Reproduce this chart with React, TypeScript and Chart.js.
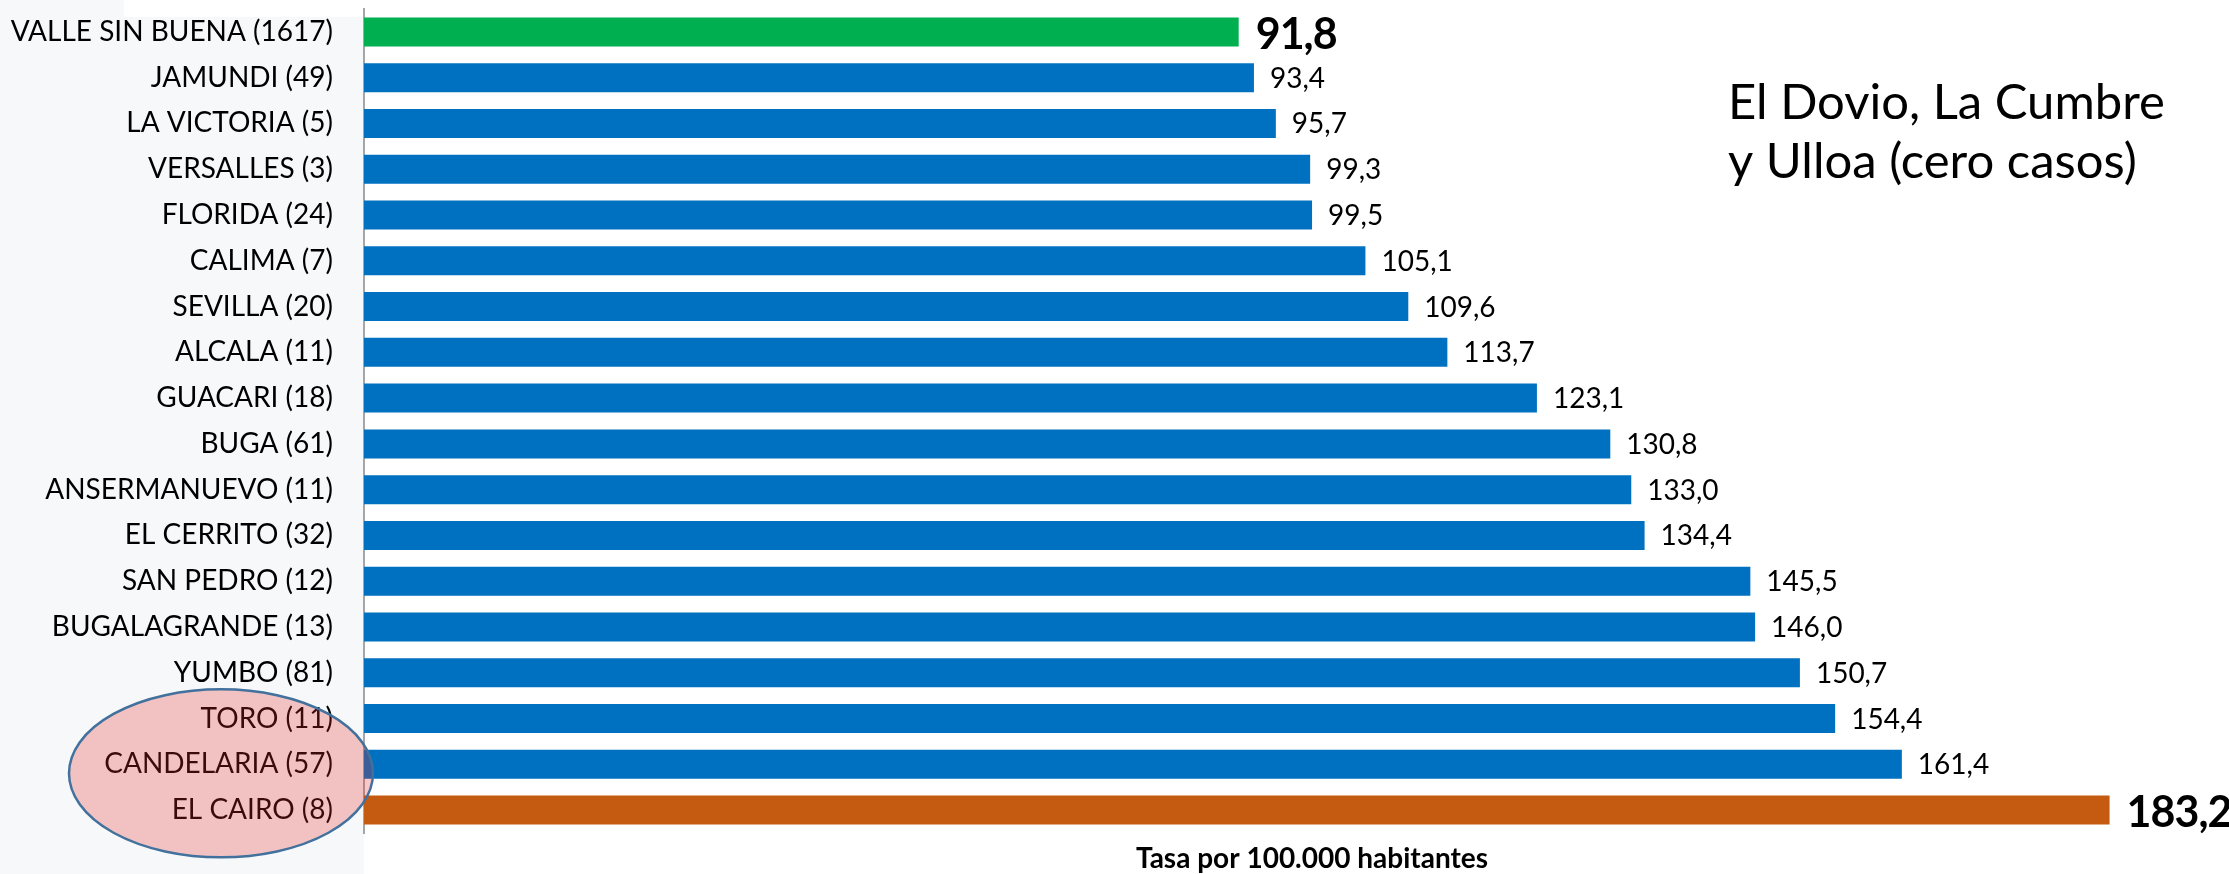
import React, { useEffect, useRef } from "react";
import { Chart, registerables } from "chart.js";

Chart.register(...registerables);

const categories = [
  "VALLE SIN BUENA (1617)",
  "JAMUNDI (49)",
  "LA VICTORIA (5)",
  "VERSALLES (3)",
  "FLORIDA (24)",
  "CALIMA (7)",
  "SEVILLA (20)",
  "ALCALA (11)",
  "GUACARI (18)",
  "BUGA (61)",
  "ANSERMANUEVO (11)",
  "EL CERRITO (32)",
  "SAN PEDRO (12)",
  "BUGALAGRANDE (13)",
  "YUMBO (81)",
  "TORO (11)",
  "CANDELARIA (57)",
  "EL CAIRO (8)",
];

const rates = [
  91.8, 93.4, 95.7, 99.3, 99.5, 105.1, 109.6, 113.7, 123.1, 130.8, 133.0, 134.4,
  145.5, 146.0, 150.7, 154.4, 161.4, 183.2,
];

const highlighted = [0, 17];

const barColors = categories.map((_, i) =>
  i === 0 ? "#00b050" : i === categories.length - 1 ? "#c55a11" : "#0070c0"
);

const noteLines = ["El Dovio, La Cumbre", "y Ulloa (cero casos)"];
const axisTitle = "Tasa por 100.000 habitantes";
const circledLabels = ["TORO (11)", "CANDELARIA (57)", "EL CAIRO (8)"];

const FONT = "Lato, 'Noto Sans', sans-serif";

export default function App() {
  const ref = useRef<HTMLCanvasElement | null>(null);

  useEffect(() => {
    let chart: Chart | null = null;
    let cancelled = false;

    const build = () => {
      if (cancelled || !ref.current) return;
      const bgPlugin = {
        id: "bg",
        beforeDraw(c: any) {
          const ctx = c.ctx;
          ctx.save();
          ctx.fillStyle = "#ffffff";
          ctx.fillRect(0, 0, c.width, c.height);
          const left = c.chartArea.left;
          ctx.fillStyle = "#f6f8fa";
          ctx.fillRect(0, 0, left, c.height);
          ctx.fillStyle = "#ffffff";
          ctx.fillRect(124, 0, left - 124, 17);
          ctx.restore();
        },
      };

      const labelPlugin = {
        id: "valueLabels",
        afterDatasetsDraw(c: any) {
          const ctx = c.ctx;
          const meta = c.getDatasetMeta(0);
          ctx.save();
          ctx.fillStyle = "#000000";
          ctx.textAlign = "left";
          ctx.textBaseline = "middle";
          meta.data.forEach((bar: any, i: number) => {
            const txt = rates[i].toFixed(1).replace(".", ",");
            if (highlighted.includes(i)) {
              ctx.font = `bold 43px ${FONT}`;
              (ctx as any).letterSpacing = "-1px";
              ctx.fillText(txt, bar.x + 17, bar.y + 3);
              (ctx as any).letterSpacing = "0px";
            } else {
              ctx.font = `28px ${FONT}`;
              ctx.fillText(txt, bar.x + 16, bar.y + 1);
            }
          });
          ctx.restore();
        },
        afterDraw(c: any) {
          const ctx = c.ctx;
          ctx.save();
          // note text
          ctx.fillStyle = "#000000";
          ctx.textAlign = "left";
          ctx.textBaseline = "alphabetic";
          ctx.font = `49px ${FONT}`;
          ctx.fillText(noteLines[0], 1728, 119);
          ctx.fillText(noteLines[1], 1728, 178);
          // axis title
          ctx.font = `bold 28px ${FONT}`;
          ctx.textAlign = "center";
          ctx.fillText(axisTitle, 1312, 868);
          // ellipse around circled labels
          const yScale = c.scales.y;
          const i0 = categories.indexOf(circledLabels[0]);
          const i1 = categories.indexOf(circledLabels[circledLabels.length - 1]);
          const cy = (yScale.getPixelForValue(i0) + yScale.getPixelForValue(i1)) / 2 + 9;
          ctx.beginPath();
          ctx.ellipse(221, cy, 152, 84, 0, 0, Math.PI * 2);
          ctx.fillStyle = "rgba(230, 38, 38, 0.26)";
          ctx.fill();
          ctx.lineWidth = 2.5;
          ctx.strokeStyle = "#41719c";
          ctx.stroke();
          ctx.restore();
        },
      };

      chart = new Chart(ref.current, {
        type: "bar",
        data: {
          labels: categories,
          datasets: [
            {
              data: rates,
              backgroundColor: barColors,
              borderWidth: 0,
              categoryPercentage: 1,
              barPercentage: 0.633,
            },
          ],
        },
        options: {
          indexAxis: "y",
          responsive: false,
          animation: false,
          devicePixelRatio: 1,
          layout: { padding: { left: 0, top: 9, right: 7, bottom: 41 } },
          plugins: {
            legend: { display: false },
            tooltip: { enabled: false },
          },
          scales: {
            x: {
              display: false,
              min: 0,
              max: 195,
            },
            y: {
              afterFit: (s: any) => {
                s.width = 364;
                s.paddingTop = 0;
                s.paddingBottom = 0;
              },
              grid: { display: false, drawTicks: false },
              border: { display: true, color: "#a6a6a6", width: 2 },
              ticks: {
                color: "#000000",
                padding: 31,
                font: { family: FONT, size: 28 },
              },
            },
          },
        },
        plugins: [bgPlugin, labelPlugin],
      } as any);
    };

    const fontsReady = (document as any).fonts
      ? Promise.all([
          (document as any).fonts.load(`28px Lato`),
          (document as any).fonts.load(`bold 28px Lato`),
        ]).catch(() => null)
      : Promise.resolve(null);
    fontsReady.then(build);

    return () => {
      cancelled = true;
      if (chart) chart.destroy();
    };
  }, []);

  return (
    <div style={{ position: "absolute", left: 0, top: 0, width: 2229, height: 874 }}>
      <canvas ref={ref} width={2229} height={874} style={{ width: 2229, height: 874 }} />
    </div>
  );
}
